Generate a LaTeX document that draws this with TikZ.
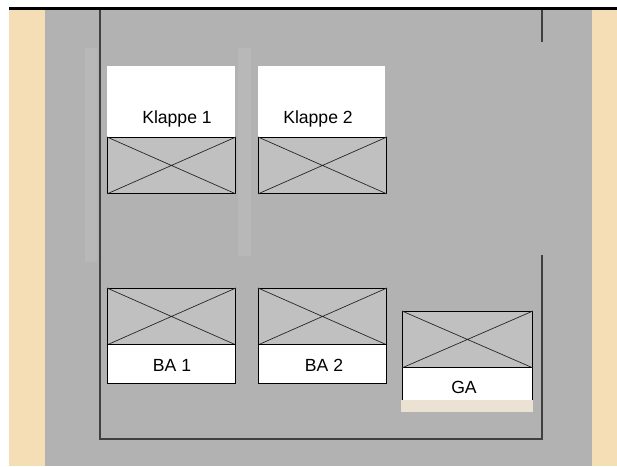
\documentclass[tikz,border=0pt]{standalone}
\usepackage{fontspec}
\setmainfont{Liberation Sans}
\definecolor{parchment}{RGB}{245,222,181}
\definecolor{screen}{RGB}{178,178,178}
\definecolor{screenlight}{RGB}{184,184,184}
\definecolor{boxgray}{RGB}{192,192,192}
\definecolor{wall}{RGB}{64,64,64}
\definecolor{sill}{RGB}{236,226,212}
\tikzset{
  crossbox/.style={draw=black, fill=boxgray, line width=0.9pt, inner sep=0pt,
    minimum width=128pt, minimum height=56pt, anchor=north west},
  labelbox/.style={fill=white, inner sep=0pt, anchor=north west},
  wallline/.style={draw=wall, line width=1.8pt},
  crossline/.style={draw=black!85, line width=0.7pt},
  lbl/.style={font=\fontsize{17.6}{20}\selectfont, inner sep=0pt}
}
\begin{document}
\begin{tikzpicture}[x=1pt,y=-1pt]
\useasboundingbox (0,0) rectangle (617,466);
% backdrop
\fill[white] (0,0) rectangle (617,466);
\fill[parchment] (9,10) rectangle (617,466);
\fill[screen] (45,10) rectangle (592,466);
\fill[screenlight] (85,48) rectangle (97,262);
\fill[screenlight] (238,48) rectangle (251,256);
\draw[black, line width=3pt] (9,8.5) -- (617,8.5);
% walls
\draw[wallline] (100,10) -- (100,439) -- (542,439) -- (542,255);
\draw[wallline] (542,10) -- (542,42);

% Klappe 1
\node[labelbox, minimum width=128pt, minimum height=71pt] (k1w) at (107,66) {};
\node[crossbox] (k1) at (107,137) {};
\draw[crossline] (k1.north west) -- (k1.south east) (k1.north east) -- (k1.south west);
\node[lbl] (k1t) at (177,119) {Klappe 1};

% Klappe 2
\node[labelbox, minimum width=127pt, minimum height=71pt] (k2w) at (258,66) {};
\node[crossbox] (k2) at (258,137) {};
\draw[crossline] (k2.north west) -- (k2.south east) (k2.north east) -- (k2.south west);
\node[lbl] (k2t) at (318,119) {Klappe 2};

% BA 1
\node[crossbox] (b1) at (107,288) {};
\draw[crossline] (b1.north west) -- (b1.south east) (b1.north east) -- (b1.south west);
\node[draw=black, line width=0.9pt, fill=white, inner sep=0pt, minimum width=128pt,
      minimum height=39pt, anchor=north west] (b1w) at (107,344) {};
\node[lbl] (b1t) at (172,365) {BA 1};

% BA 2
\node[crossbox] (b2) at (258,288) {};
\draw[crossline] (b2.north west) -- (b2.south east) (b2.north east) -- (b2.south west);
\node[draw=black, line width=0.9pt, fill=white, inner sep=0pt, minimum width=128pt,
      minimum height=39pt, anchor=north west] (b2w) at (258,344) {};
\node[lbl] (b2t) at (324,365) {BA 2};

% GA
\fill[sill] (401,400) rectangle (533,412);
\node[labelbox, minimum width=130pt, minimum height=33pt] (gw) at (402,367) {};
\draw[line width=0.9pt] (gw.south west) -- (gw.north west) (gw.north east) -- (gw.south east);
\node[crossbox, minimum width=130pt] (g) at (402,311) {};
\draw[crossline] (g.north west) -- (g.south east) (g.north east) -- (g.south west);
\node[lbl] (gt) at (464,387) {GA};
\end{tikzpicture}
\end{document}
